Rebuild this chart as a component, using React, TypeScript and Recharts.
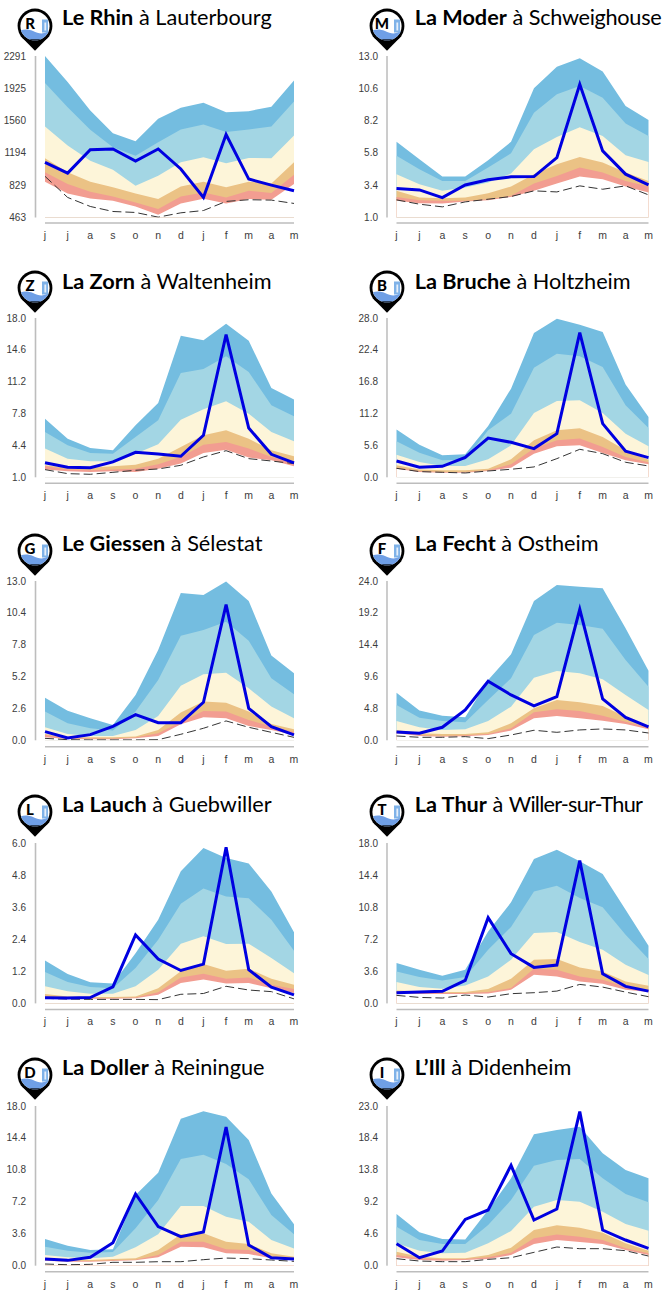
import React from 'react';
import { ComposedChart, Area, Line, XAxis, YAxis } from 'recharts';

const months = ['j', 'j', 'a', 's', 'o', 'n', 'd', 'j', 'f', 'm', 'a', 'm'];

// Le Rhin
const rhinTicks = [463, 829, 1194, 1560, 1925, 2291];
const rhinMax = [2291, 1996, 1674, 1417, 1326, 1580, 1704, 1761, 1655, 1667, 1716, 2015];
const rhinHigh = [1985, 1712, 1455, 1258, 1163, 1315, 1458, 1515, 1432, 1458, 1493, 1776];
const rhinMid = [1493, 1277, 1106, 1004, 823, 936, 1088, 1144, 1076, 1137, 1133, 1390];
const rhinLow = [1133, 974, 868, 804, 736, 671, 815, 868, 804, 868, 849, 1088];
const rhinVeryLow = [974, 841, 754, 701, 633, 558, 701, 747, 690, 766, 739, 947];
const rhinFloor = [868, 736, 679, 652, 588, 493, 622, 675, 622, 671, 664, 841];
const rhinRecord = [929, 690, 588, 531, 520, 467, 516, 542, 645, 664, 660, 622];
const rhinFlow = [1088, 966, 1231, 1239, 1103, 1239, 1012, 690, 1402, 898, 830, 766];

// La Moder
const moderTicks = [1.0, 3.4, 5.8, 8.2, 10.6, 13.0];
const moderMax = [6.62, 5.33, 4.04, 4.04, 5.26, 6.62, 10.6, 12.2, 12.83, 11.84, 9.29, 8.25];
const moderHigh = [5.58, 4.59, 3.72, 3.72, 4.71, 5.77, 8.79, 10.15, 10.77, 9.9, 7.98, 7.06];
const moderMid = [4.22, 3.47, 2.98, 3.23, 3.6, 4.27, 6.07, 6.99, 7.7, 7.06, 5.63, 5.13];
const moderLow = [2.98, 2.48, 2.43, 2.48, 2.81, 3.3, 4.22, 4.96, 5.5, 5.08, 4.34, 3.72];
const moderVeryLow = [2.53, 2.29, 2.24, 2.24, 2.36, 2.61, 3.52, 4.09, 4.71, 4.34, 3.72, 3.3];
const moderFloor = [2.24, 2.06, 2.04, 2.19, 2.29, 2.53, 2.98, 3.52, 4.04, 3.85, 3.3, 2.86];
const moderRecord = [2.31, 1.99, 1.79, 2.16, 2.36, 2.56, 2.98, 2.9, 3.35, 3.1, 3.35, 2.68];
const moderFlow = [3.15, 3.05, 2.48, 3.42, 3.8, 4.02, 4.04, 5.45, 10.9, 5.95, 4.22, 3.42];

// La Zorn
const zornTicks = [1.0, 4.4, 7.8, 11.2, 14.6, 18.0];
const zornMax = [7.26, 5.12, 4.13, 3.88, 6.55, 8.93, 16.11, 15.62, 17.39, 15.58, 10.53, 9.29];
const zornHigh = [5.84, 4.41, 3.6, 3.52, 5.3, 7.08, 12.13, 12.56, 13.91, 12.24, 8.68, 7.51];
const zornMid = [4.06, 2.99, 2.71, 2.71, 3.52, 4.52, 7.15, 8.25, 9.11, 7.79, 5.84, 4.84];
const zornLow = [2.28, 2.03, 2.03, 2.17, 2.35, 2.99, 4.24, 5.48, 6.01, 5.12, 3.88, 3.24];
const zornVeryLow = [2.21, 1.82, 1.75, 1.82, 1.92, 2.39, 3.17, 4.48, 4.77, 4.06, 3.17, 2.64];
const zornFloor = [1.82, 1.64, 1.57, 1.64, 1.57, 1.92, 2.46, 3.6, 3.95, 3.1, 2.81, 2.17];
const zornRecord = [1.82, 1.39, 1.32, 1.53, 1.75, 1.89, 2.28, 3.17, 3.84, 2.99, 2.74, 2.46];
const zornFlow = [2.56, 2.07, 2.03, 2.64, 3.67, 3.49, 3.24, 5.48, 16.22, 6.26, 3.45, 2.53];

// La Bruche
const brucheTicks = [0.0, 5.6, 11.2, 16.8, 22.4, 28.0];
const brucheMax = [8.38, 5.74, 3.87, 4.04, 9.02, 15.58, 25.36, 27.88, 26.83, 25.54, 16.29, 10.6];
const brucheHigh = [6.33, 4.33, 2.99, 3.1, 8.26, 11.19, 19.27, 21.73, 21.26, 19.39, 12.65, 8.67];
const brucheMid = [3.98, 2.69, 1.99, 1.99, 3.16, 5.62, 11.31, 13.41, 13.53, 11.31, 7.67, 5.45];
const brucheLow = [2.11, 1.35, 1.23, 1.23, 1.52, 3.16, 6.5, 8.26, 8.61, 7.09, 4.74, 3.1];
const brucheVeryLow = [1.7, 1.11, 0.94, 0.94, 1.23, 2.28, 5.04, 6.5, 6.8, 5.33, 3.57, 2.64];
const brucheFloor = [1.52, 0.94, 0.82, 0.82, 1.11, 1.7, 4.16, 5.45, 5.62, 4.28, 2.99, 2.28];
const brucheRecord = [1.58, 1, 0.88, 0.76, 1.11, 1.41, 1.82, 3.28, 4.92, 4.16, 2.64, 1.99];
const brucheFlow = [2.87, 1.76, 1.93, 3.51, 6.91, 6.15, 5.04, 7.67, 25.42, 9.43, 4.57, 3.46];

// Le Giessen
const giessenTicks = [0.0, 2.6, 5.2, 7.8, 10.4, 13.0];
const giessenMax = [3.48, 2.42, 1.8, 1.25, 3.7, 7.37, 12.02, 11.86, 12.95, 11.37, 6.91, 5.47];
const giessenHigh = [2.34, 1.39, 0.98, 0.79, 2.34, 4.92, 8.54, 9, 9.68, 8.13, 5.06, 3.75];
const giessenMid = [1.06, 0.52, 0.35, 0.35, 0.84, 1.99, 4.46, 5.39, 5.52, 4.24, 2.75, 1.8];
const giessenLow = [0.52, 0.24, 0.24, 0.24, 0.3, 0.84, 2.26, 3.16, 3.07, 2.34, 1.33, 0.9];
const giessenVeryLow = [0.44, 0.16, 0.14, 0.14, 0.22, 0.57, 1.52, 2.39, 2.34, 1.66, 1.12, 0.68];
const giessenFloor = [0.24, 0.11, 0.08, 0.08, 0.16, 0.35, 1.31, 1.88, 1.8, 1.17, 0.84, 0.44];
const giessenRecord = [0.16, 0.05, 0.03, 0.03, 0.03, 0.05, 0.49, 0.98, 1.58, 1.06, 0.65, 0.24];
const giessenFlow = [0.71, 0.19, 0.46, 1.14, 2.09, 1.44, 1.44, 3.1, 11.07, 2.61, 1.12, 0.44];

// La Fecht
const fechtTicks = [0.0, 4.8, 9.6, 14.4, 19.2, 24.0];
const fechtMax = [7.18, 4.47, 3.71, 3.46, 9.09, 12.95, 20.98, 23.39, 23.14, 22.89, 16.87, 10.49];
const fechtHigh = [5.32, 3.41, 2.91, 2.71, 6.07, 9.34, 15.86, 17.72, 17.37, 16.82, 12.1, 8.08];
const fechtMid = [2.91, 1.96, 1.56, 1.66, 2.91, 5.07, 9.44, 10.44, 10.09, 9.19, 6.83, 4.57];
const fechtLow = [1.56, 1.05, 0.95, 0.95, 1.2, 2.56, 4.82, 6.07, 5.72, 5.17, 3.56, 2.16];
const fechtVeryLow = [1.2, 0.8, 0.65, 0.75, 0.95, 1.81, 4.22, 4.67, 4.42, 3.71, 2.81, 1.91];
const fechtFloor = [1.05, 0.65, 0.55, 0.6, 0.8, 1.46, 3.31, 3.66, 3.31, 2.96, 2.46, 1.66];
const fechtRecord = [0.65, 0.45, 0.45, 0.55, 0.25, 0.8, 1.51, 1.2, 1.56, 1.71, 1.56, 1.1];
const fechtFlow = [1.26, 1.05, 1.96, 4.57, 8.89, 6.83, 5.17, 6.58, 19.73, 6.22, 3.46, 2.01];

// La Lauch
const lauchTicks = [0.0, 1.2, 2.4, 3.6, 4.8, 6.0];
const lauchMax = [1.6, 1.1, 0.79, 0.74, 1.88, 3.13, 4.94, 5.81, 5.44, 5.23, 4.19, 2.66];
const lauchHigh = [1.17, 0.8, 0.61, 0.57, 1.32, 2.38, 3.73, 4.3, 4, 3.93, 3.13, 1.97];
const lauchMid = [0.64, 0.45, 0.36, 0.36, 0.64, 1.26, 2.23, 2.51, 2.22, 2.23, 1.7, 1.13];
const lauchLow = [0.35, 0.26, 0.24, 0.24, 0.26, 0.57, 1.2, 1.47, 1.22, 1.3, 0.92, 0.7];
const lauchVeryLow = [0.26, 0.21, 0.2, 0.2, 0.22, 0.42, 0.97, 1.11, 0.92, 0.97, 0.7, 0.54];
const lauchFloor = [0.24, 0.19, 0.17, 0.17, 0.19, 0.32, 0.76, 0.89, 0.74, 0.76, 0.57, 0.39];
const lauchRecord = [0.19, 0.16, 0.15, 0.15, 0.15, 0.14, 0.34, 0.37, 0.64, 0.5, 0.44, 0.17];
const lauchFlow = [0.21, 0.2, 0.22, 0.62, 2.56, 1.66, 1.23, 1.47, 5.84, 1.26, 0.61, 0.32];

// La Thur
const thurTicks = [0.0, 3.6, 7.2, 10.8, 14.4, 18.0];
const thurMax = [4.53, 3.78, 3.11, 3.78, 8.08, 11.34, 16.2, 17.25, 15.94, 14.52, 10.51, 6.47];
const thurHigh = [3.59, 2.96, 2.58, 2.96, 6.02, 8.57, 12.57, 13.21, 11.82, 10.78, 7.71, 4.98];
const thurMid = [2.39, 1.83, 1.65, 2.02, 3.03, 4.9, 7.9, 8.01, 6.89, 6.02, 4.34, 3.18];
const thurLow = [1.46, 1.35, 1.27, 1.27, 1.61, 2.77, 4.9, 4.98, 4.04, 3.59, 2.47, 1.98];
const thurVeryLow = [1.27, 1.16, 1.16, 1.16, 1.27, 1.72, 3.89, 3.78, 3.03, 2.66, 1.83, 1.53];
const thurFloor = [1.16, 1.05, 1.05, 1.05, 1.12, 1.53, 3.22, 3.03, 2.47, 2.21, 1.53, 1.27];
const thurRecord = [0.9, 0.67, 0.6, 0.94, 0.71, 1.09, 1.2, 1.38, 2.13, 1.83, 1.27, 0.75];
const thurFlow = [1.2, 1.27, 1.35, 2.58, 9.62, 5.58, 4.04, 4.3, 16.02, 3.33, 1.91, 1.38];

// La Doller
const dollerTicks = [0.0, 3.6, 7.2, 10.8, 14.4, 18.0];
const dollerMax = [3.01, 2.25, 1.77, 1.84, 7.97, 10.48, 16.57, 17.4, 16.8, 14.17, 8.15, 4.66];
const dollerHigh = [2.14, 1.69, 1.47, 1.54, 4.21, 7.4, 12.03, 12.51, 11.46, 9.73, 5.71, 3.53];
const dollerMid = [1.2, 0.94, 0.83, 1.01, 2.07, 3.53, 6.73, 6.73, 5.52, 4.96, 2.89, 1.95];
const dollerLow = [0.75, 0.64, 0.64, 0.75, 0.83, 1.77, 3.53, 3.65, 2.71, 2.44, 1.39, 1.01];
const dollerVeryLow = [0.64, 0.53, 0.53, 0.6, 0.68, 1.2, 2.71, 2.71, 1.84, 1.77, 1.01, 0.83];
const dollerFloor = [0.56, 0.45, 0.45, 0.53, 0.6, 0.94, 2.14, 2.07, 1.39, 1.32, 0.83, 0.64];
const dollerRecord = [0.19, 0.11, 0.15, 0.38, 0.38, 0.45, 0.45, 0.68, 0.86, 0.79, 0.64, 0.49];
const dollerFlow = [0.75, 0.6, 0.94, 2.59, 8.08, 4.4, 3.27, 3.8, 15.63, 2.33, 0.9, 0.75];

// L'Ill
const illTicks = [0.0, 4.6, 9.2, 13.8, 18.4, 23.0];
const illMax = [7.44, 4.8, 3.84, 3.79, 8.02, 12.58, 18.92, 19.54, 20.02, 16.18, 13.78, 12.58];
const illHigh = [5.62, 3.7, 3.12, 3.12, 5.86, 9.46, 14.41, 15.22, 15.37, 12.58, 10.32, 9.12];
const illMid = [3.22, 2.16, 1.78, 1.87, 3.22, 4.99, 8.5, 9.46, 9.22, 7.78, 6, 5.04];
const illLow = [2.02, 1.3, 1.06, 1.06, 1.54, 2.59, 5.14, 5.81, 5.47, 4.75, 3.22, 2.16];
const illVeryLow = [1.54, 1.06, 0.91, 0.96, 1.2, 1.87, 3.94, 4.51, 4.18, 3.7, 2.5, 1.78];
const illFloor = [1.2, 0.82, 0.72, 0.82, 0.96, 1.54, 3.12, 3.7, 3.41, 3.12, 2.26, 1.54];
const illRecord = [1.01, 0.67, 0.58, 0.58, 0.91, 1.15, 1.92, 2.69, 2.45, 2.45, 2.16, 1.39];
const illFlow = [3.17, 1.15, 2.11, 6.67, 8.02, 14.45, 6.58, 8.16, 22.19, 5.14, 3.7, 2.5];

const makeRows = (a: number[], b: number[], c: number[], d: number[], e: number[], f: number[], g: number[], h: number[]) =>
  months.map((month, i) => ({
    slot: i,
    month,
    max: a[i], high: b[i], mid: c[i], low: d[i], veryLow: e[i], floor: f[i], record: g[i], flow: h[i],
  }));

const stations = [
  { letter: 'R', river: 'Le Rhin', place: 'Lauterbourg', ticks: rhinTicks, digits: 0, rows: makeRows(rhinMax, rhinHigh, rhinMid, rhinLow, rhinVeryLow, rhinFloor, rhinRecord, rhinFlow) },
  { letter: 'M', river: 'La Moder', place: 'Schweighouse', ticks: moderTicks, digits: 1, rows: makeRows(moderMax, moderHigh, moderMid, moderLow, moderVeryLow, moderFloor, moderRecord, moderFlow) },
  { letter: 'Z', river: 'La Zorn', place: 'Waltenheim', ticks: zornTicks, digits: 1, rows: makeRows(zornMax, zornHigh, zornMid, zornLow, zornVeryLow, zornFloor, zornRecord, zornFlow) },
  { letter: 'B', river: 'La Bruche', place: 'Holtzheim', ticks: brucheTicks, digits: 1, rows: makeRows(brucheMax, brucheHigh, brucheMid, brucheLow, brucheVeryLow, brucheFloor, brucheRecord, brucheFlow) },
  { letter: 'G', river: 'Le Giessen', place: 'Sélestat', ticks: giessenTicks, digits: 1, rows: makeRows(giessenMax, giessenHigh, giessenMid, giessenLow, giessenVeryLow, giessenFloor, giessenRecord, giessenFlow) },
  { letter: 'F', river: 'La Fecht', place: 'Ostheim', ticks: fechtTicks, digits: 1, rows: makeRows(fechtMax, fechtHigh, fechtMid, fechtLow, fechtVeryLow, fechtFloor, fechtRecord, fechtFlow) },
  { letter: 'L', river: 'La Lauch', place: 'Guebwiller', ticks: lauchTicks, digits: 1, rows: makeRows(lauchMax, lauchHigh, lauchMid, lauchLow, lauchVeryLow, lauchFloor, lauchRecord, lauchFlow) },
  { letter: 'T', river: 'La Thur', place: 'Willer-sur-Thur', ticks: thurTicks, digits: 1, rows: makeRows(thurMax, thurHigh, thurMid, thurLow, thurVeryLow, thurFloor, thurRecord, thurFlow) },
  { letter: 'D', river: 'La Doller', place: 'Reiningue', ticks: dollerTicks, digits: 1, rows: makeRows(dollerMax, dollerHigh, dollerMid, dollerLow, dollerVeryLow, dollerFloor, dollerRecord, dollerFlow) },
  { letter: 'I', river: 'L’Ill', place: 'Didenheim', ticks: illTicks, digits: 1, rows: makeRows(illMax, illHigh, illMid, illLow, illVeryLow, illFloor, illRecord, illFlow) },
];

const rowLayout = [
  { iconTop: 8.3, titleY: 16.7, valueTop: 55.5, valueBottom: 217, axisY: 222.5 },
  { iconTop: 271, titleY: 280.7, valueTop: 317.7, valueBottom: 477, axisY: 483 },
  { iconTop: 534, titleY: 542.7, valueTop: 581, valueBottom: 740.3, axisY: 746.7 },
  { iconTop: 794.7, titleY: 804, valueTop: 843.3, valueBottom: 1003.7, axisY: 1009.7 },
  { iconTop: 1057.3, titleY: 1066.7, valueTop: 1106, valueBottom: 1265.7, axisY: 1271.7 },
];

const columnLayout = [
  { plotLeft: 44.5, plotRight: 293.5, axisX: 35, labelRight: 25.5, iconX: 35, titleX: 62, ruleWidth: 1.6, ruleColor: '#bdbdbd' },
  { plotLeft: 396, plotRight: 648, axisX: 386.5, labelRight: 377.5, iconX: 386.5, titleX: 414.7, ruleWidth: 1, ruleColor: '#9a9a9a' },
];

const bands = [
  { key: 'max', fill: '#74bde0' },
  { key: 'high', fill: '#a3d6e4' },
  { key: 'mid', fill: '#fdf5d9' },
  { key: 'low', fill: '#ebc285' },
  { key: 'veryLow', fill: '#f29d91' },
  { key: 'floor', fill: '#ffffff' },
];

// Titles the reference sets tighter than the font's natural width.
const placeLetterSpacing: Record<string, number> = { Schweighouse: -0.3, 'Willer-sur-Thur': -0.8 };

const CHART_TOP_PAD = 10;
const X_AXIS_HEIGHT = 24;

function Pin({ id, letter, cx, top }: { id: string; letter: string; cx: number; top: number }) {
  const cy = top + 17.4;
  return (
    <svg width={44} height={50} style={{ position: 'absolute', left: cx - 22, top: cy - 20, overflow: 'visible' }} viewBox="-22 -20 44 50">
      <defs>
        <clipPath id={id}><circle r={14.6} /></clipPath>
      </defs>
      <path d="M-14.5,10 L0,24.7 L14.5,10 Z" fill="#000" />
      <circle r={17.4} fill="#000" />
      <circle r={14.6} fill="#fff" />
      <g clipPath={`url(#${id})`}>
        <path d="M-16,5 C-11,3 -7,3 -2,5 C2,7 6,8 9,7 C12,6 14,5 16,4 L16,15 L-16,15 Z" fill="#6f9fe6" />
        <rect x={7} y={-6.5} width={6} height={13} fill="#7fb2e8" />
        <rect x={9.4} y={-3.5} width={1.8} height={8} fill="#e6effa" />
        <rect x={-16} y={13.4} width={32} height={4} fill="#000" />
      </g>
      <text x={-5} y={2.8} textAnchor="middle" fontFamily="Lato" fontWeight={900} fontSize={15} fill="#000">{letter}</text>
    </svg>
  );
}

function Panel({ station, index }: { station: (typeof stations)[number]; index: number }) {
  const col = columnLayout[index % 2];
  const row = rowLayout[Math.floor(index / 2)];
  const chartLeft = col.labelRight - 25;
  const chartTop = row.valueTop - CHART_TOP_PAD;
  const plotHeight = row.axisY - row.valueTop;
  const chartWidth = col.plotRight - chartLeft + 12;
  const chartHeight = CHART_TOP_PAD + plotHeight + X_AXIS_HEIGHT;
  const domain = [station.ticks[0], station.ticks[station.ticks.length - 1]];
  return (
    <>
      <div style={{ position: 'absolute', left: chartLeft, top: chartTop }}>
        <ComposedChart
          width={chartWidth}
          height={chartHeight}
          data={station.rows}
          margin={{ top: CHART_TOP_PAD, right: 12, bottom: 0, left: 0 }}
        >
          <XAxis
            dataKey="slot"
            type="category"
            interval={0}
            height={X_AXIS_HEIGHT}
            tickLine={false}
            tickSize={0}
            tickMargin={8.5}
            tickFormatter={(slot: number) => months[slot]}
            axisLine={{ stroke: '#bdbdbd', strokeWidth: 1.5 }}
            tick={{ fontSize: 10.5, fontFamily: 'Liberation Sans', fill: '#3c3c3c' }}
          />
          <YAxis
            type="number"
            domain={domain}
            ticks={station.ticks}
            interval={0}
            allowDataOverflow
            width={col.plotLeft - chartLeft}
            padding={{ top: 0, bottom: row.axisY - row.valueBottom }}
            axisLine={false}
            tickLine={false}
            tickSize={0}
            tickMargin={col.plotLeft - col.labelRight}
            tickFormatter={(v: number) => v.toFixed(station.digits)}
            tick={{ fontSize: 10, fontFamily: 'Liberation Sans', fill: '#3c3c3c' }}
          />
          {bands.map((b) => (
            <Area
              key={b.key}
              type="linear"
              dataKey={b.key}
              fill={b.fill}
              fillOpacity={1}
              stroke="none"
              dot={false}
              activeDot={false}
              isAnimationActive={false}
            />
          ))}
          <Line type="linear" dataKey="record" stroke="#333" strokeWidth={1} strokeDasharray="9 4" dot={false} activeDot={false} isAnimationActive={false} />
          <Line type="linear" dataKey="flow" stroke="#0000e0" strokeWidth={3} strokeLinejoin="miter" dot={false} activeDot={false} isAnimationActive={false} />
          <line
            x1={col.axisX - chartLeft}
            x2={col.axisX - chartLeft}
            y1={CHART_TOP_PAD}
            y2={CHART_TOP_PAD + row.valueBottom - row.valueTop}
            stroke={col.ruleColor}
            strokeWidth={col.ruleWidth}
          />
        </ComposedChart>
      </div>
      <Pin id={`pin-${index}`} letter={station.letter} cx={col.iconX} top={row.iconTop} />
      <div
        style={{
          position: 'absolute',
          left: col.titleX,
          top: row.titleY - 15,
          height: 30,
          lineHeight: '30px',
          fontFamily: 'Lato',
          fontSize: 21.7,
          color: '#000',
          whiteSpace: 'nowrap',
        }}
      >
        <b style={{ fontWeight: 700 }}>{station.river}</b> à{' '}
        <span style={{ letterSpacing: placeLetterSpacing[station.place] ?? 0 }}>{station.place}</span>
      </div>
    </>
  );
}

export default function App() {
  return (
    <div style={{ position: 'absolute', left: 0, top: 0, width: 663, height: 1290, overflow: 'hidden', background: '#fff' }}>
      {stations.map((s, i) => (
        <Panel key={s.letter} station={s} index={i} />
      ))}
    </div>
  );
}
